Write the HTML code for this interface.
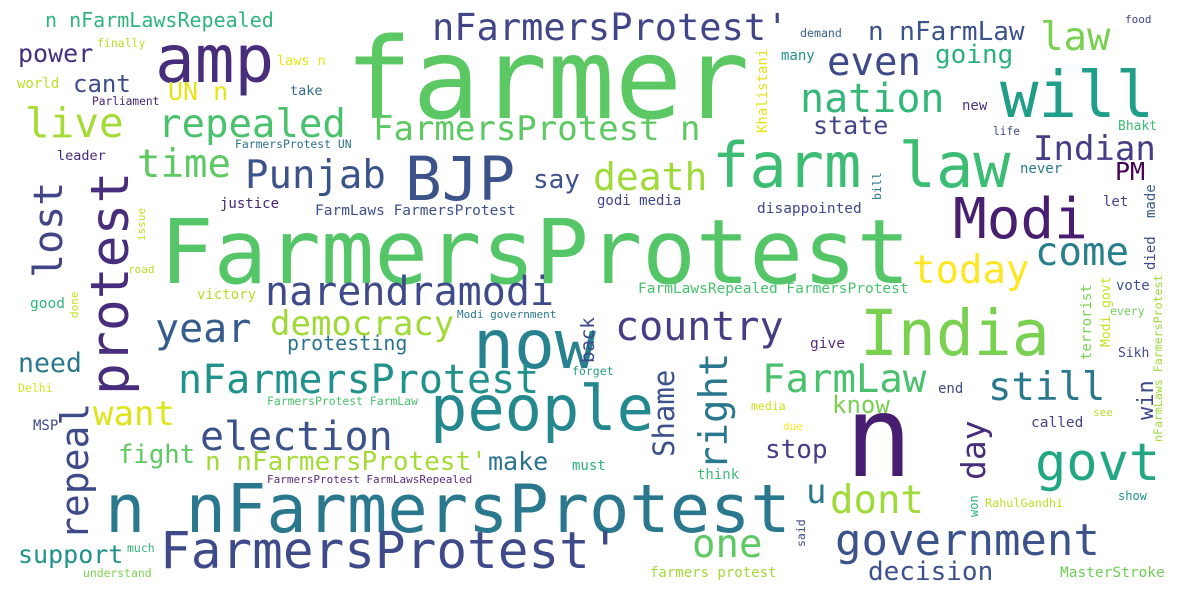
<!DOCTYPE html>
<html><head><meta charset="utf-8"><style>
html,body{margin:0;padding:0;background:#fff;}
svg{display:block;}
text{font-family:"DejaVu Sans Mono","Liberation Mono",monospace;}
</style></head><body>
<svg width="1182" height="601" viewBox="0 0 1182 601">
<rect width="1182" height="601" fill="#fff"/>
<text x="345" y="118" font-size="112" fill="#5cc863">farmer</text>
<text x="160" y="283" font-size="89" fill="#55c667">FarmersProtest</text>
<text x="105" y="532" font-size="67" fill="#2a788e">n nFarmersProtest</text>
<text x="160" y="568" font-size="51" fill="#3e4a89">FarmersProtest'</text>
<text x="155" y="82" font-size="66" fill="#472d7b">amp</text>
<text x="1000" y="117" font-size="64" fill="#1f9e89">will</text>
<text x="712" y="187" font-size="62" fill="#3dbc74">farm law</text>
<text x="953" y="238" font-size="56" fill="#481f70">Modi</text>
<text x="860" y="355" font-size="63" fill="#7ad151">India</text>
<text x="405" y="200" font-size="61" fill="#3b528b">BJP</text>
<text transform="translate(128,395) rotate(-90)" font-size="53" fill="#472d7b">protest</text>
<text x="845" y="476" font-size="112" fill="#471e6f">n</text>
<text x="430" y="430" font-size="62" fill="#23898e">people</text>
<text x="473" y="368" font-size="68" fill="#26828e">now</text>
<text x="1035" y="480" font-size="52" fill="#22a785">govt</text>
<text x="835" y="555" font-size="44" fill="#3b528b">government</text>
<text x="432" y="40" font-size="37" fill="#404688">nFarmersProtest'</text>
<text x="868" y="40" font-size="26" fill="#3b528b">n nFarmLaw</text>
<text x="1040" y="50" font-size="39" fill="#7ad151">law</text>
<text x="827" y="75" font-size="39" fill="#3e4a89">even</text>
<text x="935" y="63" font-size="26" fill="#2db27d">going</text>
<text x="800" y="112" font-size="40" fill="#35b779">nation</text>
<text x="813" y="134" font-size="25" fill="#414487">state</text>
<text x="1033" y="160" font-size="34" fill="#433e85">Indian</text>
<text x="1115" y="180" font-size="25" fill="#440154">PM</text>
<text x="1035" y="265" font-size="39" fill="#277f8e">come</text>
<text x="912" y="283" font-size="39" fill="#fde725">today</text>
<text x="593" y="190" font-size="38" fill="#a0da39">death</text>
<text x="137" y="177" font-size="39" fill="#5ec962">time</text>
<text x="25" y="137" font-size="41" fill="#a5db36">live</text>
<text x="158" y="137" font-size="39" fill="#4ac16d">repealed</text>
<text x="373" y="140" font-size="34" fill="#5ec962">FarmersProtest n</text>
<text x="245" y="188" font-size="39" fill="#3b528b">Punjab</text>
<text x="45" y="27" font-size="20" fill="#2fb47c">n nFarmLawsRepealed</text>
<text x="18" y="62" font-size="25" fill="#46307e">power</text>
<text x="73" y="92" font-size="24" fill="#3e4c8a">cant</text>
<text x="168" y="100" font-size="25" fill="#e5e419">UN n</text>
<text x="97" y="47" font-size="11.5" fill="#b5de2b">finally</text>
<text x="17" y="88" font-size="14" fill="#bddf26">world</text>
<text x="277" y="65" font-size="13.5" fill="#e7e419">laws n</text>
<text x="290" y="95" font-size="13.5" fill="#31688e">take</text>
<text x="92" y="105" font-size="11.2" fill="#482475">Parliament</text>
<text x="57" y="160" font-size="13.5" fill="#482878">leader</text>
<text x="235" y="148" font-size="11.4" fill="#2c728e">FarmersProtest UN</text>
<text x="800" y="37" font-size="11.6" fill="#35608d">demand</text>
<text x="781" y="60" font-size="14" fill="#21918c">many</text>
<text x="1125" y="23" font-size="11" fill="#414487">food</text>
<text transform="translate(767,133) rotate(-90)" font-size="14" fill="#e2e418">Khalistani</text>
<text x="962" y="110" font-size="14" fill="#46327e">new</text>
<text x="993" y="135" font-size="11.2" fill="#3e4a89">life</text>
<text x="1118" y="130" font-size="13" fill="#3fbc73">Bhakt</text>
<text x="1020" y="173" font-size="14" fill="#2a788e">never</text>
<text x="1103" y="206" font-size="14" fill="#414487">let</text>
<text transform="translate(1155,218) rotate(-90)" font-size="14" fill="#38598c">made</text>
<text transform="translate(1155,270) rotate(-90)" font-size="14" fill="#3e4a89">died</text>
<text transform="translate(881,200) rotate(-90)" font-size="11.5" fill="#2a788e">bill</text>
<text x="757" y="213" font-size="14.5" fill="#3e4a89">disappointed</text>
<text x="597" y="205" font-size="14" fill="#404688">godi media</text>
<text x="533" y="188" font-size="26" fill="#3b528b">say</text>
<text x="220" y="208" font-size="14" fill="#482475">justice</text>
<text x="315" y="215" font-size="14.5" fill="#3b528b">FarmLaws FarmersProtest</text>
<text transform="translate(62,278) rotate(-90)" font-size="40" fill="#414487">lost</text>
<text x="265" y="305" font-size="40" fill="#3e4a89">narendramodi</text>
<text x="155" y="342" font-size="40" fill="#365c8d">year</text>
<text x="270" y="335" font-size="34" fill="#a0da39">democracy</text>
<text x="287" y="350" font-size="20" fill="#2c728e">protesting</text>
<text x="615" y="340" font-size="40" fill="#433e85">country</text>
<text x="638" y="293" font-size="14.5" fill="#48c16e">FarmLawsRepealed FarmersProtest</text>
<text x="197" y="299" font-size="14" fill="#b5de2b">victory</text>
<text x="30" y="308" font-size="14.5" fill="#2fb47c">good</text>
<text transform="translate(78,318) rotate(-90)" font-size="11" fill="#c8e020">done</text>
<text transform="translate(145,241) rotate(-90)" font-size="11" fill="#c8e020">issue</text>
<text x="128" y="273" font-size="11" fill="#b5de2b">road</text>
<text x="457" y="318" font-size="11" fill="#2a788e">Modi government</text>
<text transform="translate(594,363) rotate(-90)" font-size="19" fill="#3e4a89">back</text>
<text x="572" y="375" font-size="11.5" fill="#2a9a8a">forget</text>
<text x="18" y="372" font-size="26.5" fill="#2a788e">need</text>
<text x="178" y="393" font-size="40" fill="#21918c">nFarmersProtest</text>
<text x="18" y="392" font-size="11.5" fill="#d8e219">Delhi</text>
<text x="267" y="405" font-size="11.4" fill="#4ac16d">FarmersProtest FarmLaw</text>
<text transform="translate(88,540) rotate(-90)" font-size="38" fill="#3e4a89">repeal</text>
<text x="93" y="425" font-size="34" fill="#dfe318">want</text>
<text x="33" y="430" font-size="14" fill="#3e4a89">MSP</text>
<text x="200" y="450" font-size="40" fill="#3b528b">election</text>
<text x="118" y="463" font-size="25.6" fill="#5ec962">fight</text>
<text x="205" y="470" font-size="26" fill="#a5db36">n nFarmersProtest'</text>
<text x="267" y="483" font-size="11" fill="#5a2d7f">FarmersProtest FarmLawsRepealed</text>
<text x="488" y="470" font-size="25" fill="#2c728e">make</text>
<text x="18" y="563" font-size="25" fill="#21918c">support</text>
<text x="127" y="552" font-size="11.5" fill="#34b679">much</text>
<text x="83" y="577" font-size="11.4" fill="#7ad151">understand</text>
<text transform="translate(674,457) rotate(-90)" font-size="29" fill="#3b528b">Shame</text>
<text transform="translate(727,470) rotate(-90)" font-size="39" fill="#2a788e">right</text>
<text x="762" y="392" font-size="39" fill="#4ac16d">FarmLaw</text>
<text x="832" y="413" font-size="24" fill="#7ad151">know</text>
<text x="988" y="400" font-size="39" fill="#2a788e">still</text>
<text transform="translate(985,480) rotate(-90)" font-size="33" fill="#472d7b">day</text>
<text transform="translate(1153,420) rotate(-90)" font-size="22" fill="#3e4a89">win</text>
<text x="938" y="393" font-size="14" fill="#3e4a89">end</text>
<text x="765" y="458" font-size="26" fill="#433e85">stop</text>
<text x="806" y="503" font-size="34" fill="#2a788e">u</text>
<text x="830" y="513" font-size="39" fill="#a0da39">dont</text>
<text x="692" y="557" font-size="39" fill="#5ec962">one</text>
<text x="868" y="580" font-size="26" fill="#3b528b">decision</text>
<text x="810" y="348" font-size="14.5" fill="#5a2d7f">give</text>
<text x="751" y="410" font-size="11.5" fill="#d0e11c">media</text>
<text x="783" y="430" font-size="11" fill="#fde725">due</text>
<text x="697" y="479" font-size="14" fill="#3dbc74">think</text>
<text transform="translate(805,547) rotate(-90)" font-size="11.5" fill="#3e4a89">said</text>
<text x="572" y="470" font-size="14" fill="#2db27d">must</text>
<text x="650" y="577" font-size="14" fill="#a0da39">farmers protest</text>
<text x="1060" y="577" font-size="14.5" fill="#6ece58">MasterStroke</text>
<text x="985" y="507" font-size="11.8" fill="#bddf26">RahulGandhi</text>
<text transform="translate(978,517) rotate(-90)" font-size="12" fill="#2db27d">won</text>
<text x="1118" y="500" font-size="12" fill="#21918c">show</text>
<text x="1031" y="427" font-size="14.5" fill="#414487">called</text>
<text x="1093" y="416" font-size="11" fill="#b5de2b">see</text>
<text x="1118" y="357" font-size="13" fill="#3e4a89">Sikh</text>
<text x="1116" y="290" font-size="14" fill="#3b528b">vote</text>
<text x="1110" y="315" font-size="11.5" fill="#6ece58">every</text>
<text transform="translate(1091,360) rotate(-90)" font-size="14" fill="#7ad151">terrorist</text>
<text transform="translate(1110,347) rotate(-90)" font-size="13" fill="#c5e021">Modi govt</text>
<text transform="translate(1162,442) rotate(-90)" font-size="11.6" fill="#9fda3a">nFarmLaws FarmersProtest</text>
</svg>
</body></html>
